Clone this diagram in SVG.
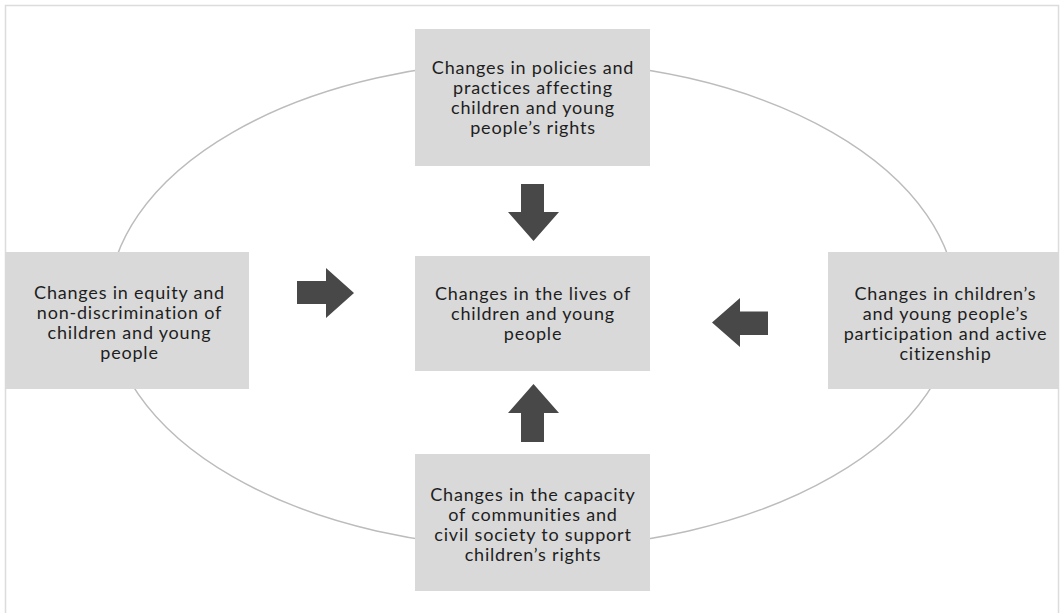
<svg xmlns="http://www.w3.org/2000/svg" width="1061" height="613" viewBox="0 0 1061 613">
<style>
.box{fill:#d9d9d9;}
.lbl{font-family:Lato,"Open Sans","Liberation Sans",sans-serif;font-size:18px;letter-spacing:0.8px;fill:#1e1e1e;text-anchor:middle;}
.arr{fill:#484848;}
</style>
<rect width="1061" height="613" fill="#ffffff"/>
<rect x="5.5" y="5.5" width="1053" height="640" fill="none" stroke="#dcdcdc" stroke-width="1.5"/>
<ellipse cx="532.5" cy="304.5" rx="424" ry="243.5" fill="none" stroke="#bcbcbc" stroke-width="1.5"/>
<g id="connectors">
<polygon class="arr" points="521,184 544,184 544,212 559,212 533.5,241 508,212 521,212"/>
<polygon class="arr" points="297,281 326,281 326,268 354,293 326,318 326,304 297,304"/>
<polygon class="arr" points="768,311.5 740,311.5 740,298 712,322.5 740,347 740,335 768,335"/>
<polygon class="arr" points="521,442 544,442 544,413 559,413 533.5,384 508,413 521,413"/>
</g>
<g id="node-top">
<rect class="box" x="415" y="29" width="235" height="137"/>
<text class="lbl"><tspan x="533" y="74">Changes in policies and</tspan><tspan x="533" y="94">practices affecting</tspan><tspan x="533" y="114">children and young</tspan><tspan x="533" y="134">people’s rights</tspan></text>
</g>
<g id="node-left">
<rect class="box" x="5" y="252" width="244" height="137"/>
<text class="lbl"><tspan x="129.5" y="299">Changes in equity and</tspan><tspan x="129.5" y="319">non-discrimination of</tspan><tspan x="129.5" y="339">children and young</tspan><tspan x="129.5" y="359">people</tspan></text>
</g>
<g id="node-center">
<rect class="box" x="415" y="256" width="235" height="115"/>
<text class="lbl"><tspan x="533" y="300">Changes in the lives of</tspan><tspan x="533" y="320">children and young</tspan><tspan x="533" y="340">people</tspan></text>
</g>
<g id="node-right">
<rect class="box" x="828" y="252" width="231" height="137"/>
<text class="lbl"><tspan x="945.5" y="300">Changes in children’s</tspan><tspan x="945.5" y="320">and young people’s</tspan><tspan x="945.5" y="340">participation and active</tspan><tspan x="945.5" y="360">citizenship</tspan></text>
</g>
<g id="node-bottom">
<rect class="box" x="415" y="454" width="235" height="137"/>
<text class="lbl"><tspan x="533" y="501">Changes in the capacity</tspan><tspan x="533" y="521">of communities and</tspan><tspan x="533" y="541">civil society to support</tspan><tspan x="533" y="561">children’s rights</tspan></text>
</g>
</svg>
